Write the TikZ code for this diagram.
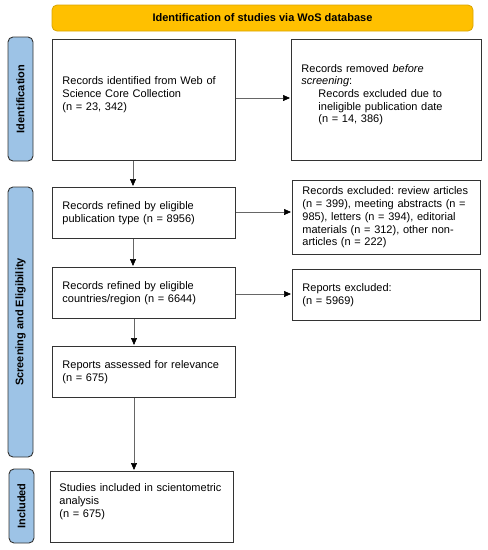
\documentclass[tikz,border=0pt]{standalone}
\usepackage{fontspec}
\setmainfont{Liberation Sans}
\usetikzlibrary{arrows.meta}
\frenchspacing
\definecolor{hdrfill}{HTML}{FFC000}
\definecolor{hdrdraw}{HTML}{D9A400}
\definecolor{sidefill}{HTML}{9DC3E6}
\definecolor{boxdraw}{HTML}{333333}
\definecolor{arrline}{HTML}{666666}
\begin{document}
\begin{tikzpicture}[x=1pt,y=-1pt,
  txt/.style={font=\fontsize{11}{12.7}\selectfont},
  box/.style={txt, draw=boxdraw, line width=0.9pt, fill=white, inner xsep=10pt, inner ysep=0pt,
    align=left, anchor=north west},
  side/.style={draw=boxdraw, line width=0.9pt, fill=sidefill, rounded corners=5pt, rotate=90,
    minimum height=25pt, inner sep=0pt, font=\fontsize{11}{13}\selectfont\bfseries},
  hdr/.style={draw=hdrdraw, line width=0.8pt, fill=hdrfill, rounded corners=5pt,
    minimum width=421pt, minimum height=26pt, inner sep=0pt, font=\fontsize{11}{13}\selectfont\bfseries},
  arr/.style={draw=arrline, line width=0.6pt, shorten >=1pt, -{Triangle[length=7pt,width=6pt,color=black]}}
]
\useasboundingbox (0,0) rectangle (488,550);

\node[hdr] (hdr) at (262.5,18) {Identification of studies via WoS database};

\node[side, minimum width=124pt] (sid) at (20.5,99) {Identification};
\node[side, minimum width=270pt] (sse) at (20.5,322) {Screening and Eligibility};
\node[side, minimum width=74pt] (sin) at (21.5,506) {Included};

\node[box, text width=163pt, minimum height=121pt] (b1) at (52,39)
  {Records identified from Web of\\Science Core Collection\\(n = 23, 342)\\\mbox{}};
\node[box, text width=170pt, minimum height=121pt] (rm) at (291,39)
  {Records removed \textit{before}\\\textit{screening}:\\
   \hspace*{17pt}Records excluded due to\\
   \hspace*{17pt}ineligible publication date\\
   \hspace*{17pt}(n = 14, 386)\\\mbox{}};
\node[box, text width=163pt, minimum height=51pt] (b2) at (52,187)
  {Records refined by eligible\\publication type (n = 8956)};
\node[box, text width=168pt, minimum height=74pt] (ex) at (292,180)
  {Records excluded: review articles\\(n = 399), meeting abstracts (n =\\985), letters (n = 394), editorial\\materials (n = 312), other non-\\articles (n = 222)};
\node[box, text width=163pt, minimum height=51pt] (b3) at (52,267)
  {Records refined by eligible\\countries/region (n = 6644)};
\node[box, text width=168pt, minimum height=51pt] (rep) at (292,269)
  {Reports excluded:\\(n = 5969)};
\node[box, text width=163pt, minimum height=51pt] (b4) at (52,346)
  {Reports assessed for relevance\\(n = 675)};
\node[box, minimum height=71pt, inner xsep=9pt, text width=165pt] (b5) at (50,471)
  {Studies included in scientometric\\analysis\\(n = 675)\\\mbox{}};

\draw[arr] (b1.south -| 133,0) -- (b2.north -| 133,0);
\draw[arr] (b2.south -| 133,0) -- (b3.north -| 133,0);
\draw[arr] (b3.south -| 134,0) -- (b4.north -| 134,0);
\draw[arr] (b4.south -| 134,0) -- (b5.north -| 134,0);
\draw[arr] (b1.east |- 0,98) -- (rm.west |- 0,98);
\draw[arr] (b2.east |- 0,212) -- (ex.west |- 0,212);
\draw[arr] (b3.east |- 0,294) -- (rep.west |- 0,294);
\end{tikzpicture}
\end{document}
